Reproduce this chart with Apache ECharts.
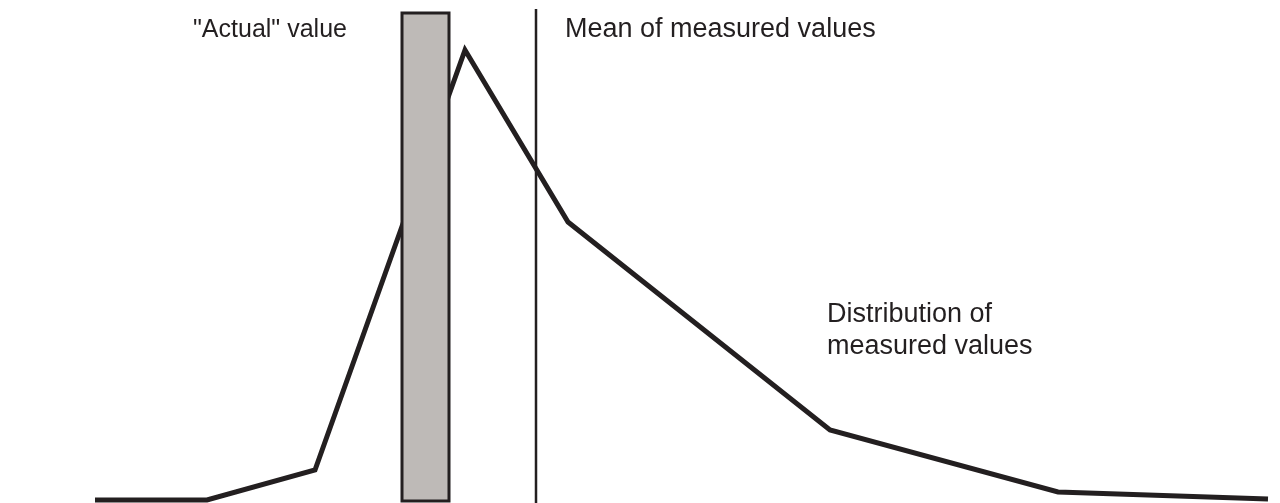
<!DOCTYPE html>
<html lang="en">
<head>
    <meta charset="UTF-8">
    <title>Measured values</title>
    <script src="https://cdn.jsdelivr.net/npm/echarts@6/dist/echarts.min.js"></script>
</head>
<body style="margin:0;background:#fff">
<div id="chart" style="width:1280px;height:503px"></div>
<script>
    // distribution of measured values (x = measured value, y = frequency)
    var distX = [95, 207, 315, 465, 568, 830, 1058, 1268];
    var distY = [3, 3, 33, 453, 281, 73, 11, 4];

    // "actual" value band: [from, to, bottom, top]
    var actualBand = [402, 449, 2, 490];

    // mean of measured values
    var meanX = 536;
    var meanTop = 494;

    var ink = '#231f20';
    var font = '"Liberation Sans", Arial, Helvetica, sans-serif';

    var _chart = echarts.init(document.getElementById('chart'));

    var lineData = [];
    for (var i = 0; i < distX.length; i++) {
        lineData.push([distX[i], distY[i]]);
    }

    var option = {
        animation: false,
        grid: {left: 0, right: 0, top: 0, bottom: 0},
        xAxis: {type: 'value', min: 0, max: 1280, show: false},
        yAxis: {type: 'value', min: 0, max: 503, show: false},
        graphic: [
            {type: 'text', x: 193, y: 30, style: {text: '"Actual" value', font: '25px ' + font, fill: ink, verticalAlign: 'middle'}},
            {type: 'text', x: 565, y: 30, style: {text: 'Mean of measured values', font: '27px ' + font, fill: ink, verticalAlign: 'middle'}},
            {type: 'text', x: 827, y: 331, style: {text: 'Distribution of\nmeasured values', font: '27px ' + font, fill: ink, lineHeight: 32, verticalAlign: 'middle'}}
        ],
        series: [
            {
                type: 'line',
                data: lineData,
                symbol: 'none',
                clip: false,
                z: 2,
                lineStyle: {color: ink, width: 5, join: 'miter', miterLimit: 20, cap: 'butt'}
            },
            {
                type: 'line',
                data: [[meanX, 0], [meanX, meanTop]],
                symbol: 'none',
                clip: false,
                z: 3,
                lineStyle: {color: ink, width: 2.5}
            },
            {
                type: 'custom',
                z: 5,
                clip: false,
                data: [actualBand],
                renderItem: function (params, api) {
                    var p0 = api.coord([api.value(0), api.value(3)]);
                    var p1 = api.coord([api.value(1), api.value(2)]);
                    return {
                        type: 'rect',
                        shape: {x: p0[0], y: p0[1], width: p1[0] - p0[0], height: p1[1] - p0[1]},
                        style: {fill: '#bebab7', stroke: ink, lineWidth: 3}
                    };
                }
            }
        ]
    };
    _chart.setOption(option, true);
</script>
</body>
</html>
